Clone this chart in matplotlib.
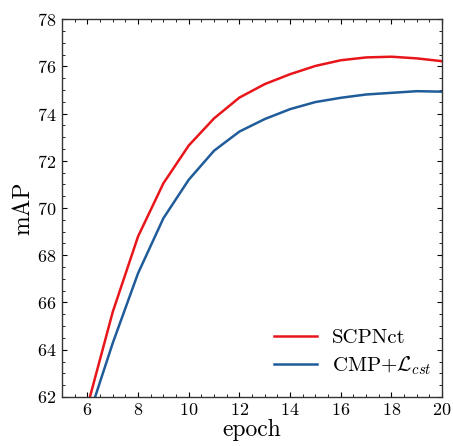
import matplotlib
matplotlib.use("Agg")
import matplotlib.pyplot as plt
from matplotlib.ticker import MultipleLocator

# data
epochs = [6, 7, 8, 9, 10, 11, 12, 13, 14, 15, 16, 17, 18, 19, 20]
scpnct = [61.6, 65.6, 68.8, 71.05, 72.65, 73.8, 74.68, 75.25, 75.67, 76.02, 76.26, 76.38, 76.41, 76.34, 76.22]
cmp_cst = [61.0, 64.28, 67.24, 69.57, 71.2, 72.43, 73.24, 73.77, 74.19, 74.49, 74.67, 74.81, 74.88, 74.95, 74.93]

plt.rcParams['font.family'] = 'cmr10'
plt.rcParams['mathtext.fontset'] = 'cm'
plt.rcParams['axes.formatter.use_mathtext'] = True

fig, ax = plt.subplots(figsize=(4.53, 4.46), dpi=100)
fig.subplots_adjust(left=0.137, right=0.976, top=0.957, bottom=0.110)

ax.plot(epochs, scpnct, color='#e8161b', lw=1.8, label='SCPNct')
ax.plot(epochs, cmp_cst, color='#1f5c99', lw=1.8, label=r'CMP+$\mathcal{L}_{cst}$')

ax.set_xlim(5, 20)
ax.set_ylim(62, 78)
ax.xaxis.set_major_locator(MultipleLocator(2))
ax.xaxis.set_minor_locator(MultipleLocator(0.5))
ax.yaxis.set_major_locator(MultipleLocator(2))
ax.yaxis.set_minor_locator(MultipleLocator(0.5))
ax.tick_params(which='both', direction='in', top=True, right=True, labelsize=13, pad=4)
ax.tick_params(which='major', length=3.5, width=0.8)
ax.tick_params(which='minor', length=2, width=0.6)
for s in ax.spines.values():
    s.set_linewidth(1.0)
    s.set_color('#333333')

ax.set_xlabel('epoch', fontsize=17, labelpad=0)
ax.set_ylabel('mAP', fontsize=17, labelpad=2)

ax.legend(loc='lower right', bbox_to_anchor=(1.013, 0.011), frameon=False,
          fontsize=15, handlelength=2.05, handletextpad=0.7,
          borderaxespad=0.35, labelspacing=0.35)

fig.savefig('out.png', dpi=100)
